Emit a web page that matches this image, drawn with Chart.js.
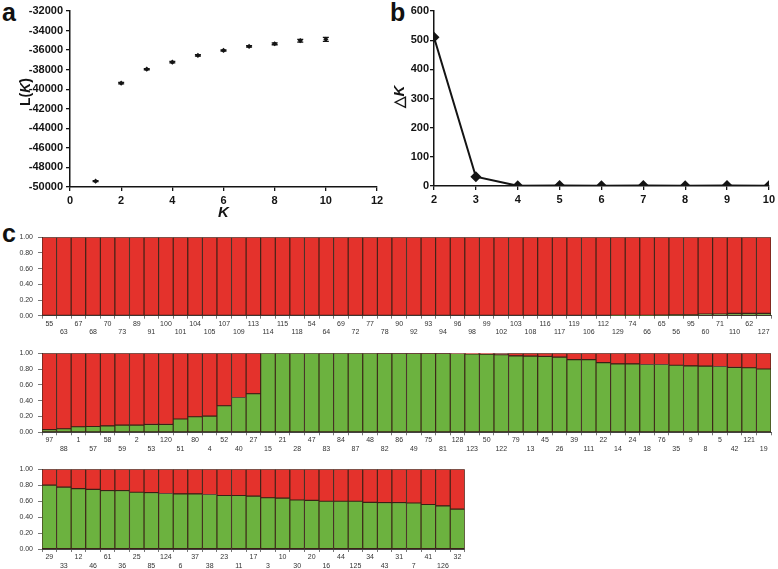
<!DOCTYPE html>
<html>
<head>
<meta charset="utf-8">
<script src="https://cdn.jsdelivr.net/npm/chart.js@4.4.1/dist/chart.umd.min.js"></script>
<style>
  html, body { margin:0; padding:0; background:#fff; }
  body { width:778px; height:569px; position:relative; overflow:hidden; font-family:"Liberation Sans", Arial, sans-serif; }
  canvas { position:absolute; }
  .letter { position:absolute; font:bold 25px "Liberation Sans", Arial, sans-serif; color:#111; line-height:25px; }
</style>
</head>
<body>
<div class="letter" style="left:2px;top:0px;">a</div>
<div class="letter" style="left:390px;top:0px;">b</div>
<div class="letter" style="left:2px;top:221px;">c</div>
<canvas id="ca" width="390" height="225" style="left:0;top:0;"></canvas>
<canvas id="cb" width="388" height="225" style="left:390px;top:0;"></canvas>
<canvas id="c1" width="778" height="110" style="left:0;top:228px;"></canvas>
<canvas id="c2" width="778" height="110" style="left:0;top:344px;"></canvas>
<canvas id="c3" width="480" height="109" style="left:0;top:460px;"></canvas>
<script>
// ---------- Panel a: L(K) ----------
const kA = [1, 2, 3, 4, 5, 6, 7, 8, 9, 10];
const lkMean = [-49400, -39380, -37950, -37230, -36540, -36030, -35620, -35350, -35040, -34900];
const lkSd = [60, 80, 60, 70, 70, 60, 80, 100, 140, 200];

// ---------- Panel b: delta K ----------
const kB = [2, 3, 4, 5, 6, 7, 8, 9, 10];
const deltaK = [510, 32, 0.6, 1.4, 0.9, 1.8, 0.7, 1.6, 0.9];

// ---------- Panel c: membership (K = 2) ----------
const row1Labels = ['55','63','67','68','70','73','89','91','100','101','104','105','107','109','113','114','115','118','54','64','69','72','77','78','90','92','93','94','96','98','99','102','103','108','116','117','119','106','112','129','74','66','65','56','95','60','71','110','62','127'];
const row1Green = [0,0,0,0,0,0,0,0,0,0,0,0,0,0,0,0,0,0,0,0,0,0,0,0,0,0,0,0,0,0,0,0,0,0,0,0,0,0,0,0.005,0.005,0.005,0.008,0.01,0.012,0.02,0.02,0.03,0.03,0.03];
const row1Red = [1,1,1,1,1,1,1,1,1,1,1,1,1,1,1,1,1,1,1,1,1,1,1,1,1,1,1,1,1,1,1,1,1,1,1,1,1,1,1,0.995,0.995,0.995,0.992,0.99,0.988,0.98,0.98,0.97,0.97,0.97];

const row2Labels = ['97','88','1','57','58','59','2','53','120','51','80','4','52','40','27','15','21','28','47','83','84','87','48','82','86','49','75','81','128','123','50','122','79','13','45','26','39','111','22','14','24','18','76','35','9','8','5','42','121','19'];
const row2Green = [0.033,0.045,0.07,0.074,0.082,0.09,0.09,0.10,0.10,0.168,0.197,0.205,0.336,0.44,0.488,1.0,1.0,1.0,1.0,0.999,0.999,0.999,0.999,0.998,0.998,0.997,0.997,0.997,0.996,0.99,0.988,0.98,0.967,0.963,0.96,0.95,0.918,0.918,0.88,0.865,0.865,0.857,0.857,0.848,0.84,0.836,0.832,0.82,0.816,0.80];
const row2Red = [0.967,0.955,0.93,0.926,0.918,0.91,0.91,0.90,0.90,0.832,0.803,0.795,0.664,0.56,0.512,0,0,0,0,0.001,0.001,0.001,0.001,0.002,0.002,0.003,0.003,0.003,0.004,0.01,0.012,0.02,0.033,0.037,0.04,0.05,0.082,0.082,0.12,0.135,0.135,0.143,0.143,0.152,0.16,0.164,0.168,0.18,0.184,0.20];

const row3Labels = ['29','33','12','46','61','36','25','85','124','6','37','38','23','11','17','3','10','30','20','16','44','125','34','43','31','7','41','126','32'];
const row3Green = [0.80,0.776,0.756,0.748,0.732,0.732,0.711,0.707,0.695,0.691,0.691,0.683,0.671,0.671,0.663,0.642,0.638,0.614,0.61,0.598,0.598,0.598,0.585,0.581,0.581,0.577,0.557,0.54,0.50];
const row3Red = [0.20,0.224,0.244,0.252,0.268,0.268,0.289,0.293,0.305,0.309,0.309,0.317,0.329,0.329,0.337,0.358,0.362,0.386,0.39,0.402,0.402,0.402,0.415,0.419,0.419,0.423,0.443,0.46,0.50];

const yTicksC = [0, 0.2, 0.4, 0.6, 0.8, 1.0];

// ---------- helpers ----------
const FF = '"Liberation Sans", Arial, sans-serif';
const INK = '#141414';
const RED = '#e4322c';
const GREEN = '#6cb23f';
const EDGE = '#3a2216';

// mixed-style rotated axis title
const mixedTitle = {
  id: 'mixedTitle',
  afterDraw(chart, args, opts) {
    if (!opts || !opts.parts) return;
    const ctx = chart.ctx;
    ctx.save();
    ctx.fillStyle = INK;
    ctx.textBaseline = 'middle';
    let total = 0;
    const fonts = opts.parts.map(p => (p.italic ? 'italic ' : '') + 'bold ' + opts.size + 'px ' + FF);
    opts.parts.forEach((p, i) => { ctx.font = fonts[i]; total += ctx.measureText(p.text).width; });
    ctx.translate(opts.x, opts.y);
    ctx.rotate(-Math.PI / 2);
    let x = -total / 2;
    ctx.textAlign = 'left';
    opts.parts.forEach((p, i) => { ctx.font = fonts[i]; ctx.fillText(p.text, x, 0); x += ctx.measureText(p.text).width; });
    ctx.restore();
  }
};

// error bars from data arrays via the chart's scales
const errorBars = {
  id: 'errorBars',
  afterDatasetsDraw(chart, args, opts) {
    if (!opts || !opts.sd) return;
    const ctx = chart.ctx, xs = chart.scales.x, ys = chart.scales.y;
    ctx.save();
    ctx.strokeStyle = INK;
    ctx.lineWidth = 1.3;
    opts.x.forEach((xv, i) => {
      const px = xs.getPixelForValue(xv);
      const top = ys.getPixelForValue(opts.y[i] + opts.sd[i]);
      const bot = ys.getPixelForValue(opts.y[i] - opts.sd[i]);
      ctx.beginPath();
      ctx.moveTo(px, top); ctx.lineTo(px, bot);
      ctx.moveTo(px - 3, top); ctx.lineTo(px + 3, top);
      ctx.moveTo(px - 3, bot); ctx.lineTo(px + 3, bot);
      ctx.stroke();
    });
    ctx.restore();
  }
};

const tickFont = { family: FF, size: 11, weight: 'bold' };
const plainNum = v => String(v);

// ---------- Panel a ----------
new Chart(document.getElementById('ca'), {
  type: 'scatter',
  data: { datasets: [{
    data: kA.map((k, i) => ({ x: k, y: lkMean[i] })),
    pointStyle: 'rectRot', pointRadius: 2.6, backgroundColor: INK, borderColor: INK, borderWidth: 0
  }] },
  options: {
    responsive: false, animation: false, events: [],
    layout: { padding: { top: 11, right: 13, left: 0, bottom: 0 } },
    plugins: {
      legend: { display: false }, tooltip: { enabled: false },
      mixedTitle: { x: 26, y: 92, size: 14, parts: [{ text: 'L(' }, { text: 'K', italic: true }, { text: ')' }] },
      errorBars: { x: kA, y: lkMean, sd: lkSd }
    },
    scales: {
      x: {
        type: 'linear', min: 0, max: 12,
        ticks: { stepSize: 2, font: tickFont, color: INK, padding: 3, maxRotation: 0, callback: plainNum },
        grid: { drawOnChartArea: false, tickLength: 4, color: INK, lineWidth: 1.3 },
        border: { color: INK, width: 1.5 },
        title: { display: true, text: 'K', color: INK, font: { family: FF, size: 15, weight: 'bold', style: 'italic' }, padding: { top: 2, bottom: 3 } },
        afterFit(s) { s.height = 38; }
      },
      y: {
        min: -50000, max: -32000,
        ticks: { stepSize: 2000, font: tickFont, color: INK, padding: 3, callback: plainNum },
        grid: { drawOnChartArea: false, tickLength: 4, color: INK, lineWidth: 1.3 },
        border: { color: INK, width: 1.5 },
        afterFit(s) { s.width = 70; }
      }
    }
  },
  plugins: [mixedTitle, errorBars]
});

// ---------- Panel b ----------
new Chart(document.getElementById('cb'), {
  type: 'scatter',
  data: { datasets: [{
    data: kB.map((k, i) => ({ x: k, y: deltaK[i] })),
    showLine: true, borderColor: INK, borderWidth: 2, tension: 0,
    pointStyle: 'rectRot', pointRadius: 5.5, backgroundColor: INK, pointBorderWidth: 0
  }] },
  options: {
    responsive: false, animation: false, events: [],
    layout: { padding: { top: 11, right: 8, left: 0, bottom: 0 } },
    plugins: {
      legend: { display: false }, tooltip: { enabled: false },
      mixedTitle: { x: 10, y: 97, size: 15, parts: [{ text: '\u25B3' }, { text: 'K', italic: true }] }
    },
    scales: {
      x: {
        type: 'linear', min: 2, max: 10,
        ticks: { stepSize: 1, font: tickFont, color: INK, padding: 3, maxRotation: 0, callback: plainNum },
        grid: { drawOnChartArea: false, tickLength: 4, color: INK, lineWidth: 1.3 },
        border: { color: INK, width: 1.5 },
        afterFit(s) { s.height = 39; }
      },
      y: {
        min: 0, max: 600,
        ticks: { stepSize: 100, font: tickFont, color: INK, padding: 1, callback: plainNum },
        grid: { drawOnChartArea: false, tickLength: 4, color: INK, lineWidth: 1.3 },
        border: { color: INK, width: 1.5 },
        afterFit(s) { s.width = 44; }
      }
    }
  },
  plugins: [mixedTitle]
});

// ---------- Panel c rows ----------
function makeRow(id, labels, green, red, padRight, xHeight) {
  new Chart(document.getElementById(id), {
    type: 'bar',
    data: {
      labels: labels,
      datasets: [
        { data: green, backgroundColor: GREEN, borderColor: EDGE, borderWidth: 0.9, borderSkipped: false, barPercentage: 1, categoryPercentage: 1 },
        { data: red, backgroundColor: RED, borderColor: EDGE, borderWidth: 0.9, borderSkipped: false, barPercentage: 1, categoryPercentage: 1 }
      ]
    },
    options: {
      responsive: false, animation: false, events: [],
      layout: { padding: { top: 7, right: padRight, left: 0, bottom: 0 } },
      plugins: { legend: { display: false }, tooltip: { enabled: false } },
      scales: {
        x: {
          stacked: true,
          ticks: {
            autoSkip: false, maxRotation: 0, minRotation: 0, padding: 1,
            font: { family: FF, size: 7, lineHeight: 1.2 }, color: '#333',
            callback(v, i) { return i % 2 === 0 ? [labels[i], ''] : ['', labels[i]]; }
          },
          grid: { offset: true, drawOnChartArea: false, tickLength: 3, color: '#555', lineWidth: 0.8 },
          border: { color: '#444', width: 1 },
          afterFit(s) { s.height = xHeight; }
        },
        y: {
          stacked: true, min: 0, max: 1,
          afterBuildTicks(s) { s.ticks = yTicksC.map(v => ({ value: v })); },
          ticks: { font: { family: FF, size: 7 }, color: '#333', padding: 5, callback(v) { return Number(v).toFixed(2); } },
          grid: { drawOnChartArea: false, tickLength: 4, color: '#555', lineWidth: 0.8 },
          border: { color: '#444', width: 1 },
          afterFit(s) { s.width = 42; }
        }
      }
    }
  });
}
makeRow('c1', row1Labels, row1Green, row1Red, 7, 22.3);
makeRow('c2', row2Labels, row2Green, row2Red, 7, 21.7);
makeRow('c3', row3Labels, row3Green, row3Red, 15.2, 20);
</script>
</body>
</html>
